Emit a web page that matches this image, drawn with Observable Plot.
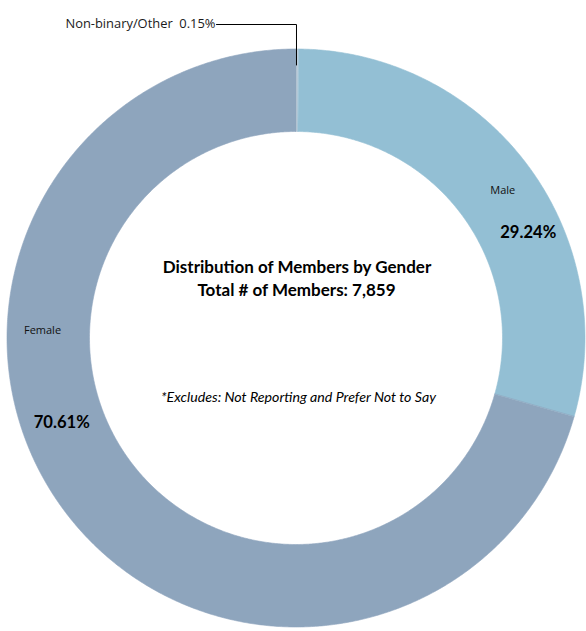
<!DOCTYPE html>
<html><head><meta charset="utf-8">
<script src="https://cdn.jsdelivr.net/npm/d3@7"></script>
<script src="https://cdn.jsdelivr.net/npm/@observablehq/plot@0.6"></script>
<style>body{margin:0;background:#fff}#chart svg{display:block}</style>
</head><body><div id="chart"></div>
<script>
// ---- data ----
const categories = ["Non-binary/Other", "Male", "Female"];
const shares = [0.15, 29.24, 70.61];
const pctLabels = ["0.15%", "29.24%", "70.61%"];
const colors = ["#c2cfdc", "#93bfd4", "#8ea5bd"];
const titleLines = ["Distribution of Members by Gender", "Total # of Members: 7,859"];
const footnote = "*Excludes: Not Reporting and Prefer Not to Say";

// ---- layout (px units, origin at donut centre, y up) ----
const W = 586, H = 631;
const cx = 295.5, cy = 337.5;
const R = 289, r0 = 206.5;
const rad = Math.PI / 180;
const polar = (deg, rr) => ({x: rr * Math.sin(deg * rad), y: rr * Math.cos(deg * rad)});

const rows = categories.map((c, i) => ({name: c, share: shares[i], pct: pctLabels[i]}));
const arcs = d3.pie().sort(null).value(d => d.share).startAngle(0).endAngle(2 * Math.PI)(rows);

const ringPts = [];
for (const a of arcs) {
  const a0 = a.startAngle, a1 = a.endAngle;
  const n = Math.max(2, Math.ceil((a1 - a0) / (0.4 * rad)));
  for (let k = 0; k <= n; k++) { const t = a0 + (a1 - a0) * k / n; ringPts.push({name: a.data.name, x: R * Math.sin(t), y: R * Math.cos(t)}); }
  for (let k = n; k >= 0; k--) { const t = a0 + (a1 - a0) * k / n; ringPts.push({name: a.data.name, x: r0 * Math.sin(t), y: r0 * Math.cos(t)}); }
}

// slice label placement (angles in degrees from 12 o'clock, clockwise)
const nameLab = [null, polar(54.5, 254), polar(-88.3, 253.6)];
const pctLab = [null, polar(65.6, 255), polar(-109.8, 249)];
const catLabels = arcs.slice(1).map((a, j) => ({text: a.data.name, ...nameLab[j + 1]}));
const pctTexts = arcs.slice(1).map((a, j) => ({text: a.data.pct, ...pctLab[j + 1]}));

// leader for the tiny slice
const nb = arcs[0];
const nbMid = (nb.startAngle + nb.endAngle) / 2;
const legY = cy - 24, legX0 = -79.5;
const leader = [
  {x: legX0, y: legY},
  {x: (R - 16) * Math.sin(nbMid) - 0.8, y: legY},
  {x: (R - 16) * Math.sin(nbMid) - 0.8, y: (R - 16) * Math.cos(nbMid)}
];
const nbLabel = [{text: `${nb.data.name}  ${nb.data.pct}`, x: legX0 - 1, y: cy - 23}];

const centerText = [
  {text: titleLines[0], x: 1, y: 70.5},
  {text: titleLines[1], x: 0.5, y: 47.5}
];

const chart = Plot.plot({
  width: W, height: H, margin: 0,
  x: {axis: null, domain: [-cx, W - cx]},
  y: {axis: null, domain: [cy - H, cy]},
  color: {domain: categories, range: colors},
  marks: [
    Plot.line(ringPts, {x: "x", y: "y", z: "name", fill: "name", stroke: "name", strokeWidth: 0.6, curve: "linear-closed"}),
    Plot.line(leader, {x: "x", y: "y", stroke: "#000", strokeWidth: 1}),
    Plot.text(nbLabel, {x: "x", y: "y", text: "text", textAnchor: "end", fontFamily: "Open Sans", fontSize: 12.9, fill: "#1a1a1a"}),
    Plot.text(catLabels, {x: "x", y: "y", text: "text", fontFamily: "Open Sans", fontSize: 11, fill: "#111"}),
    Plot.text(pctTexts, {x: "x", y: "y", text: "text", fontFamily: "Lato", fontWeight: "bold", fontSize: 16.6, fill: "#000"}),
    Plot.text(centerText, {x: "x", y: "y", text: "text", fontFamily: "Lato", fontWeight: "bold", fontSize: 17, fill: "#000"}),
    Plot.text([footnote], {x: 2.5, y: -59.5, text: d => d, fontFamily: "Lato", fontStyle: "italic", fontSize: 14.2, fill: "#000"})
  ]
});
document.getElementById("chart").append(chart);
</script>
</body></html>
